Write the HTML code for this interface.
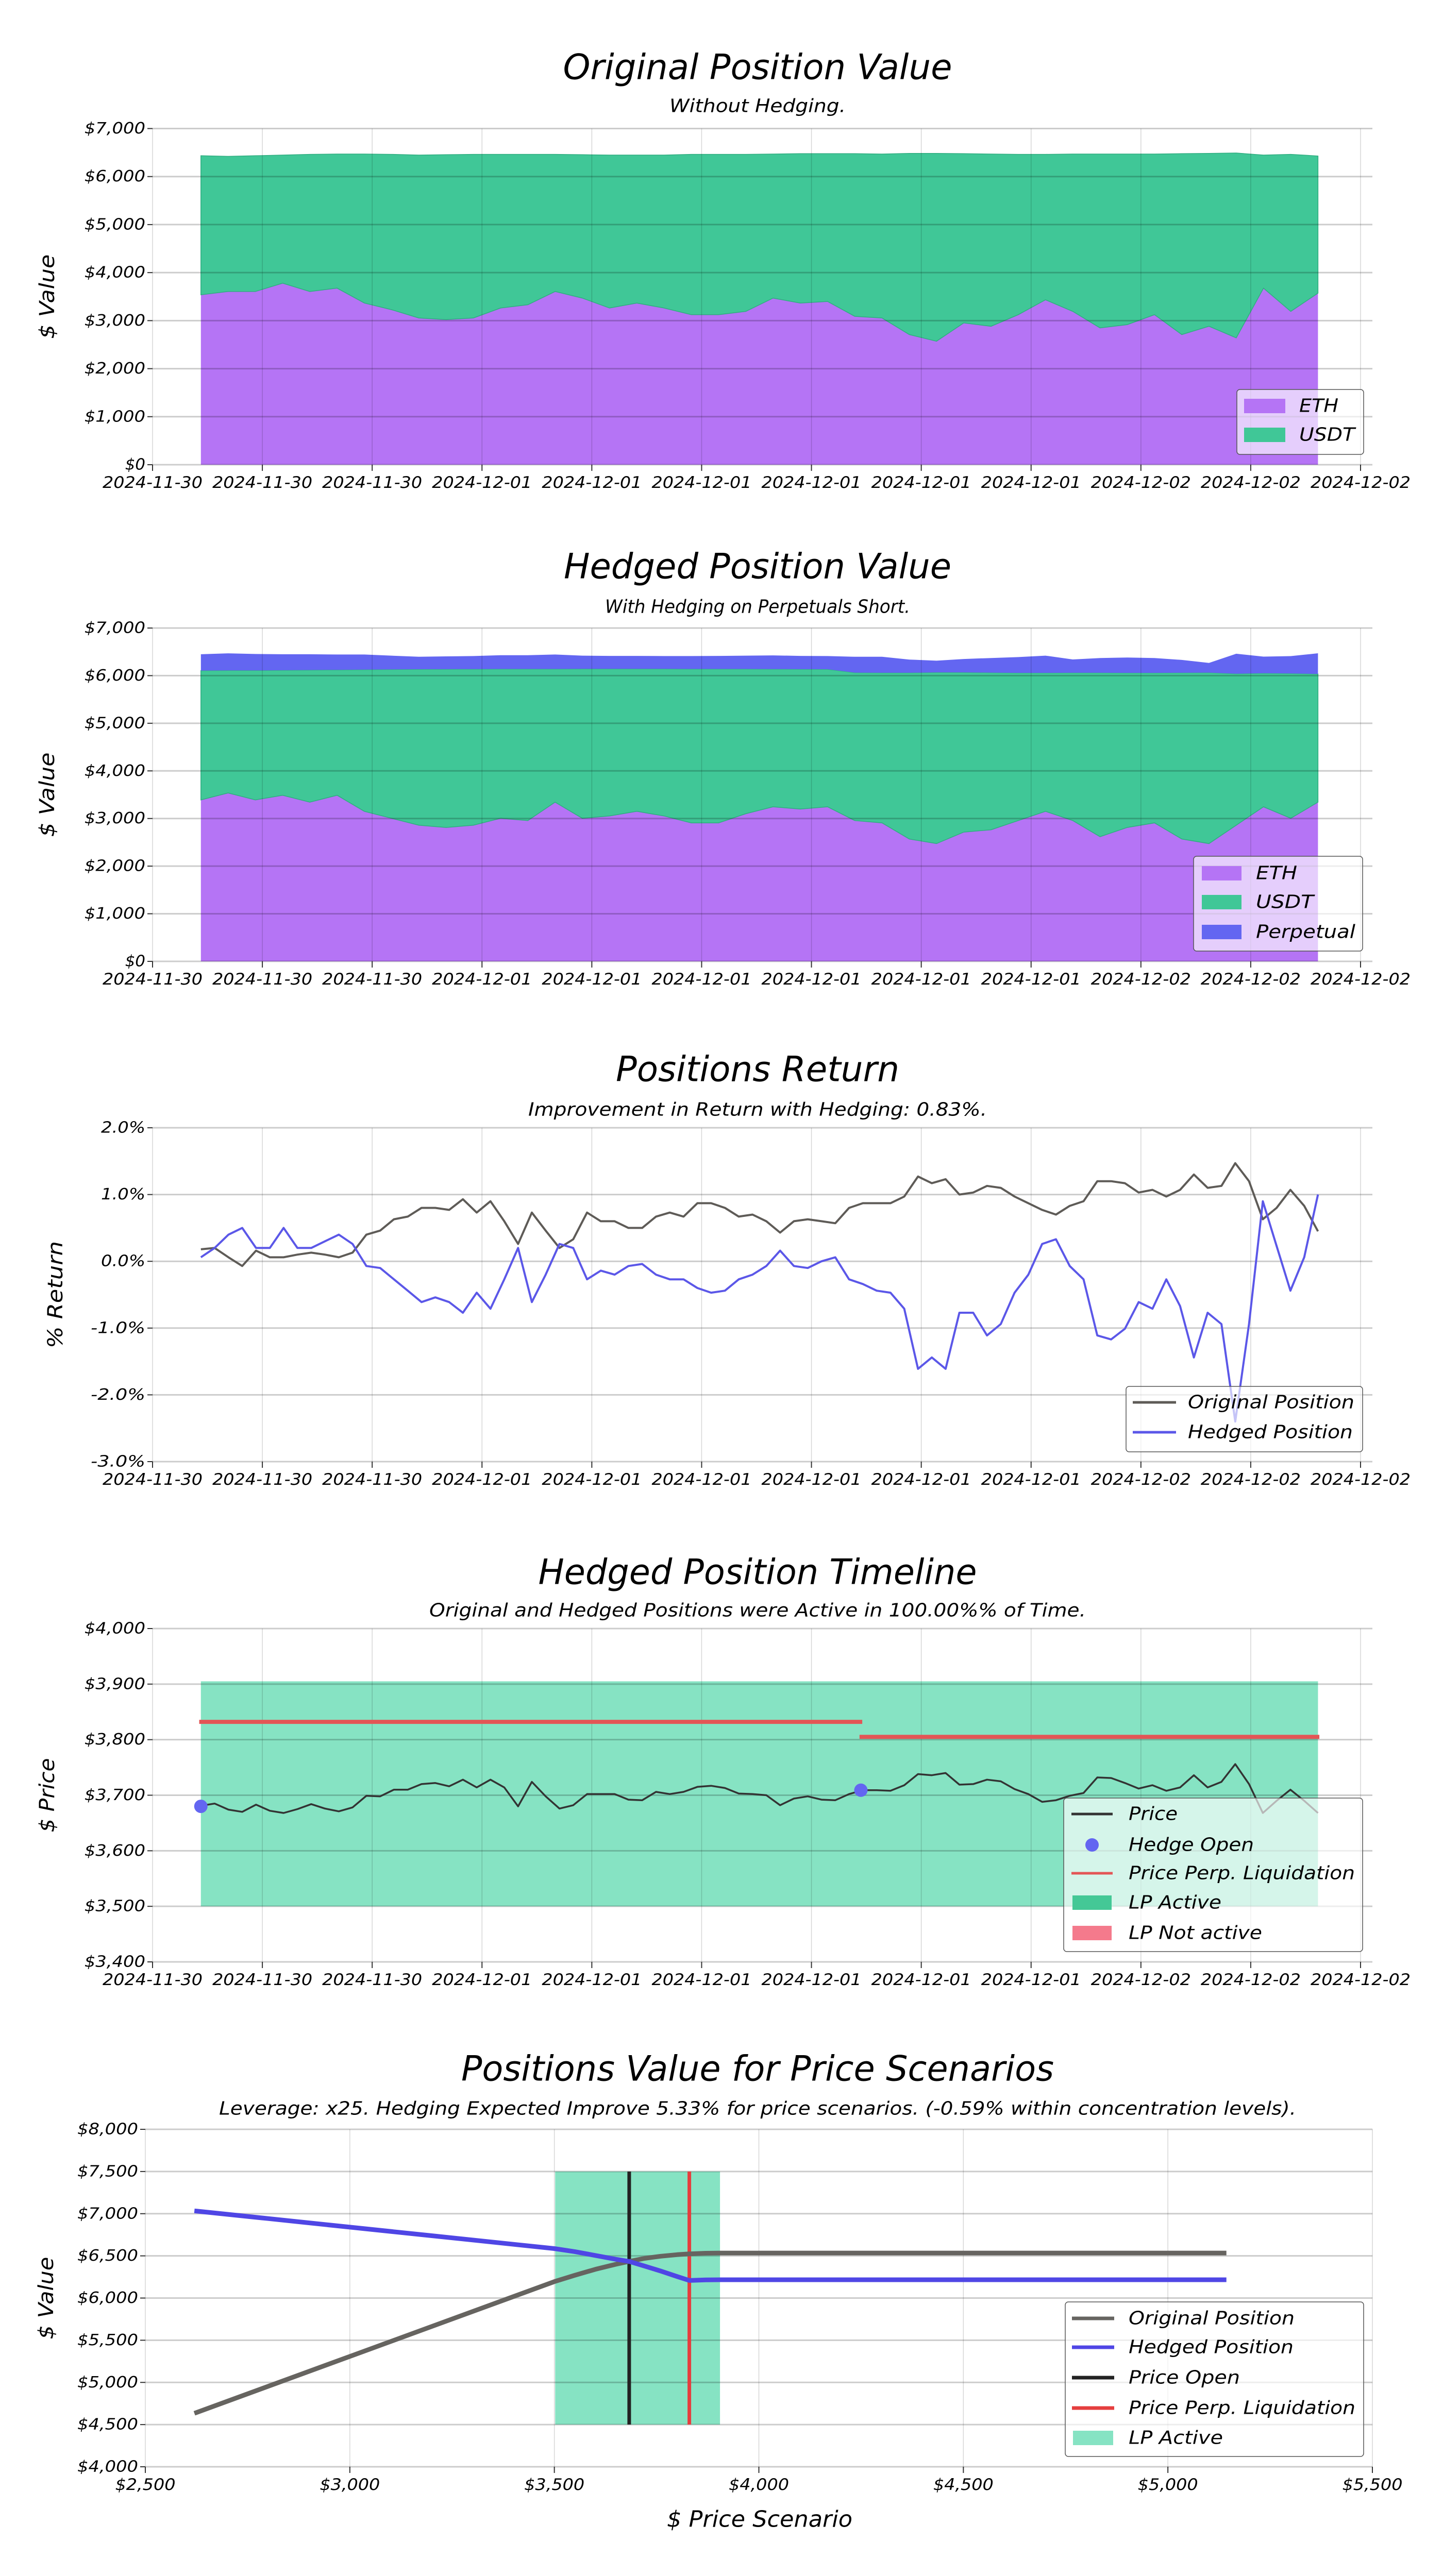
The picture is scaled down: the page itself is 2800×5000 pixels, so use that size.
<!DOCTYPE html>
<html><head><meta charset="utf-8"><style>
html,body{margin:0;padding:0;background:#fff;}
svg{display:block;}
</style></head><body>
<svg id="root" xmlns="http://www.w3.org/2000/svg" width="2800" height="5000" viewBox="0 0 2800 5000"></svg>
<script>
// ---------- DATA ----------
const xTickLabels = ['2024-11-30','2024-11-30','2024-11-30','2024-12-01','2024-12-01','2024-12-01','2024-12-01','2024-12-01','2024-12-01','2024-12-02','2024-12-02','2024-12-02'];
const tStart = 1.76, tEnd = 42.45;
const c1Eth = [3538,3607,3607,3779,3607,3676,3366,3228,3055,3021,3055,3262,3331,3607,3469,3262,3366,3262,3124,3124,3193,3469,3366,3400,3090,3055,2710,2572,2952,2883,3124,3434,3193,2848,2917,3124,2710,2883,2641,3676,3193,3572];
const c1Total = [6434,6421,6434,6448,6462,6469,6469,6462,6448,6455,6462,6462,6462,6462,6455,6448,6448,6448,6462,6462,6462,6469,6476,6476,6476,6469,6483,6483,6476,6469,6462,6462,6469,6469,6469,6469,6476,6483,6490,6448,6462,6428];
const c2Eth = [3391,3536,3391,3488,3343,3488,3150,3005,2860,2812,2860,3005,2957,3343,3005,3053,3150,3053,2908,2908,3101,3246,3198,3246,2957,2908,2570,2473,2715,2763,2957,3150,2957,2618,2812,2908,2570,2473,2860,3246,3005,3343];
const c2UsdtTop = [6106,6110,6110,6114,6118,6122,6126,6130,6134,6136,6138,6140,6140,6140,6142,6142,6142,6142,6140,6140,6140,6138,6136,6134,6063,6060,6060,6068,6068,6063,6058,6058,6060,6060,6058,6058,6060,6063,6040,6050,6045,6035];
const c2Total = [6449,6469,6455,6449,6449,6444,6444,6420,6396,6405,6411,6430,6430,6444,6420,6415,6415,6411,6411,6415,6420,6425,6415,6411,6396,6396,6338,6314,6350,6370,6390,6420,6340,6370,6380,6370,6330,6266,6460,6400,6410,6470];
const origReturn = [0.18,0.20,0.06,-0.07,0.16,0.06,0.06,0.10,0.13,0.10,0.06,0.13,0.40,0.46,0.63,0.67,0.80,0.80,0.77,0.93,0.73,0.90,0.60,0.26,0.73,0.46,0.20,0.33,0.73,0.60,0.60,0.50,0.50,0.67,0.73,0.67,0.87,0.87,0.80,0.67,0.70,0.60,0.43,0.60,0.63,0.60,0.57,0.80,0.87,0.87,0.87,0.97,1.27,1.17,1.23,1.00,1.03,1.13,1.10,0.97,0.87,0.77,0.70,0.83,0.90,1.20,1.20,1.17,1.03,1.07,0.97,1.07,1.30,1.10,1.13,1.47,1.20,0.63,0.80,1.07,0.83,0.45];
const hedgedReturn = [0.06,0.20,0.40,0.50,0.20,0.20,0.50,0.20,0.20,0.30,0.40,0.26,-0.07,-0.10,-0.27,-0.44,-0.61,-0.54,-0.61,-0.77,-0.47,-0.71,-0.27,0.20,-0.61,-0.20,0.26,0.20,-0.27,-0.14,-0.20,-0.07,-0.04,-0.20,-0.27,-0.27,-0.40,-0.47,-0.44,-0.27,-0.20,-0.07,0.16,-0.07,-0.10,0.00,0.06,-0.27,-0.34,-0.44,-0.47,-0.71,-1.61,-1.44,-1.61,-0.77,-0.77,-1.11,-0.94,-0.47,-0.20,0.26,0.33,-0.07,-0.27,-1.11,-1.17,-1.01,-0.61,-0.71,-0.27,-0.67,-1.44,-0.77,-0.94,-2.40,-0.94,0.90,0.23,-0.44,0.06,1.00];
const ethPrice = [3681,3685,3674,3670,3683,3672,3668,3675,3684,3676,3671,3678,3699,3698,3710,3710,3720,3722,3716,3728,3714,3728,3714,3680,3724,3698,3676,3682,3702,3702,3702,3692,3691,3706,3702,3706,3715,3717,3713,3703,3702,3700,3682,3694,3698,3692,3691,3702,3709,3709,3708,3718,3738,3736,3740,3719,3720,3728,3725,3711,3702,3688,3691,3699,3704,3732,3731,3722,3712,3718,3708,3714,3736,3714,3724,3756,3720,3668,3690,3710,3690,3668];
const lpLower = 3500, lpUpper = 3905;
const liqStartH = [1.7, 25.75];
const liqEndH = [25.85, 42.5];
const liqPrice = [3832, 3805];
const hedgeOpenH = [1.76, 25.8];
const hedgeOpenPrice = [3680, 3709];
const scenPrices = [2620,2800,3000,3200,3400,3500,3550,3600,3650,3683,3720,3760,3800,3830,3870,3910,4000,4500,5000,5143];
const scenOriginal = [4634,4953,5308,5663,6018,6195,6270,6340,6400,6434,6470,6496,6514,6524,6531,6534,6534,6534,6534,6534];
const scenHedged = [7033,6942,6840,6739,6637,6586,6550,6505,6460,6434,6380,6320,6255,6208,6215,6217,6217,6217,6217,6217];
const scenPriceOpen = 3683, scenLiq = 3830, scenLpLow = 3502, scenLpHigh = 3905;

// ---------- HELPERS ----------
const NS = 'http://www.w3.org/2000/svg';
const svg = document.getElementById('root');
const FONT = '"DejaVu Sans Condensed","DejaVu Sans","Liberation Sans",sans-serif';
function mk(tag, attrs, parent){
  const e = document.createElementNS(NS, tag);
  for (const k in attrs) e.setAttribute(k, attrs[k]);
  (parent || svg).appendChild(e);
  return e;
}
function txt(str, x, y, size, len, anchor, parent, rot){
  const t = mk('text', {x:x, y:y, 'font-size':size, 'font-family':FONT, 'font-style':'italic', fill:'#000', 'text-anchor':anchor||'middle', 'dominant-baseline':'central'}, parent);
  if (len) { t.setAttribute('textLength', len); t.setAttribute('lengthAdjust', 'spacingAndGlyphs'); }
  if (rot) t.setAttribute('transform', 'rotate(-90 ' + x + ' ' + y + ')');
  t.textContent = str;
  return t;
}
const X0 = 296, X1 = 2640, XR = 2663;
const xt = h => X0 + h * (X1 - X0) / 44;
function timeGrid(n){ const a=[]; for(let i=0;i<n;i++) a.push(tStart + i*(tEnd-tStart)/(n-1)); return a; }
const t42 = timeGrid(42), t82 = timeGrid(82);
function fmtMoney(v){ return '$' + v.toLocaleString('en-US'); }

function header(g, title, titleLen, ty, sub, subLen, sy){
  const a = txt(title, 1470, ty, 68, titleLen, 'middle', g);
  
  
  const b = txt(sub, 1470, sy, 36, subLen, 'middle', g);
  
  
}
function timeGridlines(g, top, bot, yTickVals, yFn, yLabelFn, yLabelWidthFn){
  const grid = mk('g', {}, g);
  
  
  for (let i = 0; i < xTickLabels.length; i++){
    const x = xt(i*4);
    const l = mk('line', {x1:x, x2:x, y1:top, y2:bot, stroke:'rgba(0,0,0,0.16)', 'stroke-width':1.5}, grid);
    
    
    const tk = mk('line', {x1:x, x2:x, y1:bot, y2:bot+12, stroke:'#333', 'stroke-width':2}, grid);
    
    
    const lb = txt(xTickLabels[i], x, bot+35, 31, 194, 'middle', grid);
    
    
  }
  for (const v of yTickVals){
    const y = yFn(v);
    const l = mk('line', {x1:X0, x2:XR, y1:y, y2:y, stroke:'rgba(0,0,0,0.2)', 'stroke-width':3}, grid);
    
    
    const tk = mk('line', {x1:X0-10, x2:X0, y1:y, y2:y, stroke:'#333', 'stroke-width':2}, grid);
    
    
    const s = yLabelFn(v);
    const lb = txt(s, X0-14, y, 30, yLabelWidthFn(s), 'end', grid);
    
    
  }
}
function areaPath(ts, lower, upper, xf, yf){
  let d = '';
  for (let i=0;i<ts.length;i++) d += (i?'L':'M') + xf(ts[i]).toFixed(1) + ',' + yf(upper[i]).toFixed(1);
  for (let i=ts.length-1;i>=0;i--) d += 'L' + xf(ts[i]).toFixed(1) + ',' + yf(lower ? lower[i] : 0).toFixed(1);
  return d + 'Z';
}
function linePath(xs, ys, xf, yf){
  let d = '';
  for (let i=0;i<xs.length;i++) d += (i?'L':'M') + xf(xs[i]).toFixed(1) + ',' + yf(ys[i]).toFixed(1);
  return d;
}
function legendBox(g, x, y, w, h){
  const r = mk('rect', {x:x, y:y, width:w, height:h, rx:6, fill:'rgba(255,255,255,0.65)', stroke:'#555', 'stroke-width':1.5}, g);
  
  
}
const moneyW = s => s.length * 19.7;
const pctW = s => s.length * 20 + 6;

// ---------- CHART 1 ----------
(function(){
  const g = mk('g', {});
  
  
  const top = 249.5, bot = 902;
  const y = v => bot - v/7000*(bot-top);
  header(g, 'Original Position Value', 755, 131, 'Without Hedging.', 342, 206);
  const a1 = mk('path', {d:areaPath(t42, null, c1Eth, xt, y), fill:'#b574f5'}, g);
  
  
  const a2 = mk('path', {d:areaPath(t42, c1Eth, c1Total, xt, y), fill:'#40c797', stroke:'#2fae80', 'stroke-width':1.5}, g);
  
  
  timeGridlines(g, top, bot, [0,1000,2000,3000,4000,5000,6000,7000], y, fmtMoney, moneyW);
  const yl = txt('$ Value', 92, (top+bot)/2, 40, 164, 'middle', g, true);
  
  
  const lg = mk('g', {}, g);
  
  
  legendBox(lg, 2400, 756, 246, 126);
  const e1 = mk('rect', {x:2414, y:774, width:80, height:28, fill:'#b574f5'}, lg);
  
  
  const t1 = txt('ETH', 2521, 788, 36, 76, 'start', lg);
  
  
  const e2 = mk('rect', {x:2414, y:830, width:80, height:28, fill:'#40c797'}, lg);
  
  
  const t2 = txt('USDT', 2521, 844, 36, 108, 'start', lg);
  
  
})();

// ---------- CHART 2 ----------
(function(){
  const g = mk('g', {});
  
  
  const top = 1219, bot = 1866;
  const y = v => bot - v/7000*(bot-top);
  header(g, 'Hedged Position Value', 752, 1100, 'With Hedging on Perpetuals Short.', 592, 1178);
  const a1 = mk('path', {d:areaPath(t42, null, c2Eth, xt, y), fill:'#b574f5'}, g);
  
  
  const a2 = mk('path', {d:areaPath(t42, c2Eth, c2UsdtTop, xt, y), fill:'#40c797', stroke:'#2fae80', 'stroke-width':1.5}, g);
  
  
  const a3 = mk('path', {d:areaPath(t42, c2UsdtTop, c2Total, xt, y), fill:'#6366f1'}, g);
  
  
  timeGridlines(g, top, bot, [0,1000,2000,3000,4000,5000,6000,7000], y, fmtMoney, moneyW);
  const yl = txt('$ Value', 92, (top+bot)/2, 40, 164, 'middle', g, true);
  
  
  const lg = mk('g', {}, g);
  
  
  legendBox(lg, 2316, 1662, 328, 184);
  const items = [['ETH','#b574f5',80,1695],['USDT','#40c797',112,1751],['Perpetual','#6366f1',193,1809]];
  for (const it of items){
    const s = mk('rect', {x:2332, y:it[3]-14, width:77, height:28, fill:it[1]}, lg);
    
    
    const t = txt(it[0], 2437, it[3], 36, it[2], 'start', lg);
    
    
  }
})();

// ---------- CHART 3 ----------
(function(){
  const g = mk('g', {});
  
  
  const top = 2189, bot = 2837;
  const y = v => top + (2 - v)/5*(bot-top);
  header(g, 'Positions Return', 550, 2076, 'Improvement in Return with Hedging: 0.83%.', 890, 2154);
  timeGridlines(g, top, bot, [2,1,0,-1,-2,-3], y, v => v.toFixed(1) + '%', pctW);
  const p1 = mk('path', {d:linePath(t82, origReturn, xt, y), fill:'none', stroke:'#5e5b57', 'stroke-width':4, 'stroke-linejoin':'round'}, g);
  
  
  const p2 = mk('path', {d:linePath(t82, hedgedReturn, xt, y), fill:'none', stroke:'#5b57e8', 'stroke-width':4, 'stroke-linejoin':'round'}, g);
  
  
  const yl = txt('% Return', 108, (top+bot)/2, 40, 208, 'middle', g, true);
  
  
  const lg = mk('g', {}, g);
  
  
  legendBox(lg, 2185, 2691, 459, 127);
  const items = [['Original Position','#5e5b57',323,2722],['Hedged Position','#5b57e8',320,2780]];
  for (const it of items){
    const s = mk('line', {x1:2198, x2:2282, y1:it[3], y2:it[3], stroke:it[1], 'stroke-width':5}, lg);
    
    
    const t = txt(it[0], 2305, it[3], 36, it[2], 'start', lg);
    
    
  }
})();

// ---------- CHART 4 ----------
(function(){
  const g = mk('g', {});
  
  
  const top = 3161, bot = 3808;
  const y = v => bot - (v-3400)/600*(bot-top);
  header(g, 'Hedged Position Timeline', 851, 3052, 'Original and Hedged Positions were Active in 100.00%% of Time.', 1274, 3126);
  const band = mk('rect', {x:xt(tStart), y:y(lpUpper), width:xt(tEnd)-xt(tStart), height:y(lpLower)-y(lpUpper), fill:'#86e3c3'}, g);
  
  
  timeGridlines(g, top, bot, [3400,3500,3600,3700,3800,3900,4000], y, fmtMoney, moneyW);
  for (let i=0;i<liqPrice.length;i++){
    const l = mk('line', {x1:xt(liqStartH[i]), x2:xt(liqEndH[i]), y1:y(liqPrice[i]), y2:y(liqPrice[i]), stroke:'#e35656', 'stroke-width':8}, g);
    
    
  }
  const p = mk('path', {d:linePath(t82, ethPrice, xt, y), fill:'none', stroke:'#333', 'stroke-width':3.5, 'stroke-linejoin':'round'}, g);
  
  
  for (let i=0;i<hedgeOpenH.length;i++){
    const c = mk('circle', {cx:xt(hedgeOpenH[i]), cy:y(hedgeOpenPrice[i]), r:13, fill:'#6366f1'}, g);
    
    
  }
  const yl = txt('$ Price', 92, (top+bot)/2, 40, 144, 'middle', g, true);
  
  
  const lg = mk('g', {}, g);
  
  
  legendBox(lg, 2064, 3490, 580, 298);
  const l1 = mk('line', {x1:2079, x2:2159, y1:3521, y2:3521, stroke:'#333', 'stroke-width':5}, lg);
  
  
  const c1 = mk('circle', {cx:2119, cy:3581, r:13, fill:'#6366f1'}, lg);
  
  
  const l3 = mk('line', {x1:2079, x2:2159, y1:3636, y2:3636, stroke:'#e35656', 'stroke-width':5}, lg);
  
  
  const r4 = mk('rect', {x:2081, y:3679, width:76, height:28, fill:'#44c896'}, lg);
  
  
  const r5 = mk('rect', {x:2081, y:3738, width:76, height:28, fill:'#f47a8c'}, lg);
  
  
  const labels = [['Price',95,3521],['Hedge Open',243,3581],['Price Perp. Liquidation',439,3636],['LP Active',180,3693],['LP Not active',259,3752]];
  for (const it of labels){
    const t = txt(it[0], 2190, it[2], 36, it[1], 'start', lg);
    
    
  }
})();

// ---------- CHART 5 ----------
(function(){
  const g = mk('g', {});
  
  
  const top = 4133, bot = 4788, L = 282, R = 2663;
  const x = v => L + (v-2500)/3000*(R-L);
  const y = v => bot - (v-4000)/4000*(bot-top);
  header(g, 'Positions Value for Price Scenarios', 1150, 4016, 'Leverage: x25. Hedging Expected Improve 5.33% for price scenarios. (-0.59% within concentration levels).', 2090, 4093);
  const band = mk('rect', {x:x(scenLpLow), y:y(7500), width:x(scenLpHigh)-x(scenLpLow), height:y(4500)-y(7500), fill:'#86e3c3'}, g);
  
  
  const grid = mk('g', {}, g);
  
  
  for (let v=2500; v<=5500; v+=500){
    const l = mk('line', {x1:x(v), x2:x(v), y1:top, y2:bot, stroke:'rgba(0,0,0,0.16)', 'stroke-width':1.5}, grid);
    
    
    const tk = mk('line', {x1:x(v), x2:x(v), y1:bot, y2:bot+12, stroke:'#333', 'stroke-width':2}, grid);
    
    
    const lb = txt(fmtMoney(v), x(v), bot+35, 31, 117, 'middle', grid);
    
    
  }
  for (let v=4000; v<=8000; v+=500){
    const l = mk('line', {x1:L, x2:R, y1:y(v), y2:y(v), stroke:'rgba(0,0,0,0.2)', 'stroke-width':3}, grid);
    
    
    const tk = mk('line', {x1:L-10, x2:L, y1:y(v), y2:y(v), stroke:'#333', 'stroke-width':2}, grid);
    
    
    const lb = txt(fmtMoney(v), L-14, y(v), 30, 118, 'end', grid);
    
    
  }
  const po = mk('line', {x1:x(scenPriceOpen), x2:x(scenPriceOpen), y1:y(7500), y2:y(4500), stroke:'#222', 'stroke-width':7}, g);
  
  
  const pl = mk('line', {x1:x(scenLiq), x2:x(scenLiq), y1:y(7500), y2:y(4500), stroke:'#e53e3e', 'stroke-width':7}, g);
  
  
  const p1 = mk('path', {d:linePath(scenPrices, scenOriginal, x, y), fill:'none', stroke:'#666460', 'stroke-width':9, 'stroke-linejoin':'round'}, g);
  
  
  const p2 = mk('path', {d:linePath(scenPrices, scenHedged, x, y), fill:'none', stroke:'#4f46e5', 'stroke-width':9, 'stroke-linejoin':'round'}, g);
  
  
  const yl = txt('$ Value', 90, (top+bot)/2, 40, 160, 'middle', g, true);
  
  
  const xl = txt('$ Price Scenario', 1474, 4890, 44, 360, 'middle', g);
  
  
  const lg = mk('g', {}, g);
  
  
  legendBox(lg, 2067, 4468, 579, 300);
  const items = [['Original Position','#666460',322,4500],['Hedged Position','#4f46e5',320,4556],['Price Open','#222',216,4615],['Price Perp. Liquidation','#e53e3e',440,4674]];
  for (const it of items){
    const s = mk('line', {x1:2080, x2:2162, y1:it[3], y2:it[3], stroke:it[1], 'stroke-width':7}, lg);
    
    
    const t = txt(it[0], 2190, it[3], 36, it[2], 'start', lg);
    
    
  }
  const r = mk('rect', {x:2082, y:4718, width:78, height:28, fill:'#86e3c3'}, lg);
  
  
  const t5 = txt('LP Active', 2190, 4732, 36, 183, 'start', lg);
  
  
})();
</script>
</body></html>
